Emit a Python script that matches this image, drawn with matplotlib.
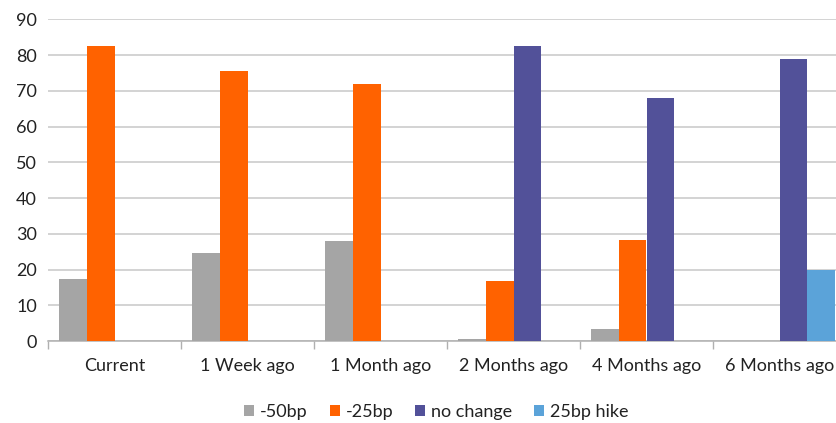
import matplotlib.pyplot as plt
import numpy as np

plt.rcParams['font.family'] = ['Lato', 'DejaVu Sans']

categories = ['Current', '1 Week ago', '1 Month ago', '2 Months ago',
              '4 Months ago', '6 Months ago']
cut_50 = [17.3, 24.5, 28.0, 0.6, 3.4, 0.0]
cut_25 = [82.6, 75.6, 71.9, 16.7, 28.3, 0.0]
no_change = [0.0, 0.0, 0.0, 82.4, 67.9, 78.8]
hike_25 = [0.0, 0.0, 0.0, 0.0, 0.0, 19.8]

series = [
    ('-50bp', cut_50, '#a5a5a5'),
    ('-25bp', cut_25, '#ff6200'),
    ('no change', no_change, '#525199'),
    ('25bp hike', hike_25, '#5ba3d9'),
]

fig = plt.figure(figsize=(8.36, 4.23), dpi=100)
ax = fig.add_axes([48 / 836, 1 - 341 / 423, 798 / 836, (341 - 19.3) / 423])

x = np.arange(len(categories))
width = 0.21
for i, (label, vals, color) in enumerate(series):
    ax.bar(x + (i - 1.5) * width, vals, width, color=color, label=label,
           edgecolor='none', zorder=3)

ax.set_ylim(0, 90)
ax.set_xlim(-0.5, len(categories) - 0.5)
ax.set_yticks(np.arange(0, 91, 10))
ax.yaxis.grid(True, color='#c8c8c8', linewidth=1.1, zorder=0)
ax.tick_params(axis='y', length=0, labelsize=13, colors='#222222', pad=8)

ax.set_xticks(x)
ax.set_xticklabels(categories)
ax.set_xticks(np.arange(-0.5, len(categories), 1), minor=True)
ax.tick_params(axis='x', which='major', length=0, labelsize=13,
               colors='#222222', pad=12)
ax.tick_params(axis='x', which='minor', length=6, color='#b0b0b0', width=1)

for side in ['left', 'right', 'top']:
    ax.spines[side].set_visible(False)
ax.spines['bottom'].set_color('#b0b0b0')
ax.spines['bottom'].set_linewidth(1.1)

fig.legend(loc='center', bbox_to_anchor=(436.5 / 836, 11 / 423), ncol=4,
           frameon=False, fontsize=13, handlelength=0.55, handleheight=0.55,
           handletextpad=0.35, columnspacing=1.2, labelcolor='#222222',
           borderpad=0)

fig.savefig('out.png', dpi=100)
